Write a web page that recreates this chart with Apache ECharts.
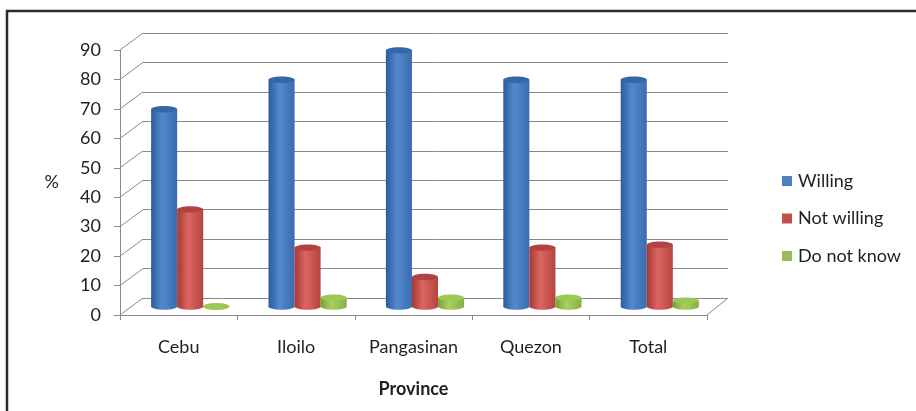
<!DOCTYPE html>
<html>
<head>
<meta charset="utf-8">
<style>
  html, body { margin: 0; padding: 0; background: #ffffff; }
  #chart { width: 916px; height: 411px; }
</style>
<script src="https://cdn.jsdelivr.net/npm/echarts@6/dist/echarts.min.js"></script>
</head>
<body>
<div id="chart"></div>
<script>
// Survey results by province (%)
const provinces = ['Cebu', 'Iloilo', 'Pangasinan', 'Quezon', 'Total'];
const seriesNames = ['Willing', 'Not willing', 'Do not know'];
const willing = [67, 77, 87, 77, 77];
const notWilling = [33, 20, 10, 20, 21];
const doNotKnow = [0, 3, 3, 3, 2];
const yTicks = [0, 10, 20, 30, 40, 50, 60, 70, 80, 90];

// Depth offset of the back wall relative to the front plane (pseudo-3D)
const DX = 23, DY = -17;
const FONT = 'Lato, "Noto Sans", sans-serif';
const TEXT = '#1f1f1f';

// Cylinder shading: [edge, highlight, edge], top cap, legend colour
const palette = [
  { body: ['#2c5c9c', '#5289cf', '#3a6cae'], cap: '#3566a9', base: '#4F81BD' },
  { body: ['#a53835', '#dc6561', '#b54542'], cap: '#b2423f', base: '#C0504D' },
  { body: ['#7aa03a', '#a9d060', '#88ad45'], cap: '#9cc955', base: '#9BBB59' }
];

function cylinder(sIdx) {
  return function (params, api) {
    const cat = api.value(0);
    const v = api.value(1);
    const base = api.coord([cat, 0]);
    const top = api.coord([cat, v]);
    const band = api.size([1, 0])[0];
    const w = band * 0.222;
    const cx = base[0] + (sIdx - 1) * w + DX / 2;
    const yb = base[1] + DY / 2;
    const yt = top[1] + DY / 2;
    const rx = w / 2, ry = 3.2;
    const p = palette[sIdx];
    const grad = new echarts.graphic.LinearGradient(0, 0, 1, 0, [
      { offset: 0, color: p.body[0] },
      { offset: 0.42, color: p.body[1] },
      { offset: 1, color: p.body[2] }
    ]);
    const children = [
      { type: 'ellipse', shape: { cx: cx, cy: yb, rx: rx, ry: ry }, style: { fill: grad } }
    ];
    if (yb - yt > 0.5) {
      children.push({ type: 'rect', shape: { x: cx - rx, y: yt, width: w, height: yb - yt }, style: { fill: grad } });
    }
    children.push({ type: 'ellipse', shape: { cx: cx, cy: yt, rx: rx, ry: ry }, style: { fill: p.cap } });
    return { type: 'group', children: children };
  };
}

const values = [willing, notWilling, doNotKnow];
const barSeries = seriesNames.map(function (name, s) {
  return {
    name: name,
    type: 'custom',
    xAxisIndex: 0,
    yAxisIndex: 0,
    clip: false,
    z: 5,
    itemStyle: { color: palette[s].base },
    encode: { x: 0, y: 1 },
    data: values[s].map(function (v, i) { return [i, v]; }),
    renderItem: cylinder(s)
  };
});

// Diagonal edges joining the front value axis to the back wall, plus the floor's right edge
const edgeSeries = {
  type: 'custom',
  xAxisIndex: 0,
  yAxisIndex: 0,
  clip: false,
  silent: true,
  z: 2,
  encode: { x: 0, y: 1 },
  data: yTicks.map(function (t) { return [0, t]; }),
  renderItem: function (params, api) {
    const rect = params.coordSys;
    const y = api.coord([0, api.value(1)])[1];
    const lineStyle = { stroke: '#8a8a8a', lineWidth: 1 };
    const children = [{
      type: 'line',
      shape: { x1: rect.x, y1: y, x2: rect.x + DX, y2: y + DY },
      style: lineStyle
    }];
    if (api.value(1) === 0) {
      const xr = rect.x + rect.width;
      children.push({
        type: 'line',
        shape: { x1: xr, y1: y, x2: xr + DX - 2, y2: y + DY },
        style: lineStyle
      });
    }
    return { type: 'group', children: children };
  }
};

const chart = echarts.init(document.getElementById('chart'), null, { renderer: 'canvas' });
chart.setOption({
  animation: false,
  backgroundColor: '#ffffff',
  textStyle: { fontFamily: FONT },
  graphic: [{
    type: 'rect',
    shape: { x: 7, y: 11, width: 1000, height: 600 },
    style: { fill: 'none', stroke: '#2b2b2b', lineWidth: 2.5 },
    silent: true,
    z: 100
  }],
  legend: {
    orient: 'vertical',
    left: 777,
    top: 167,
    icon: 'rect',
    itemWidth: 10,
    itemHeight: 10,
    itemGap: 19.5,
    data: seriesNames,
    textStyle: { fontFamily: FONT, fontSize: 18, color: TEXT, lineHeight: 18, padding: [0, 0, 0, 1] }
  },
  grid: [
    { left: 120, top: 50, width: 587, height: 265 },
    { left: 143, top: 33, width: 585, height: 265 }
  ],
  xAxis: [
    {
      gridIndex: 0,
      type: 'category',
      data: provinces,
      boundaryGap: true,
      name: 'Province',
      nameLocation: 'middle',
      nameGap: 65,
      nameTextStyle: { fontFamily: FONT, fontSize: 18, fontWeight: 'bold', color: TEXT },
      axisLine: { show: true, lineStyle: { color: '#8a8a8a', width: 1 } },
      axisTick: { show: true, length: 5, alignWithLabel: false, lineStyle: { color: '#8a8a8a' } },
      axisLabel: { fontFamily: FONT, fontSize: 18, color: TEXT, margin: 23 },
      splitLine: { show: false }
    },
    {
      gridIndex: 1,
      type: 'category',
      data: provinces,
      show: false
    }
  ],
  yAxis: [
    {
      gridIndex: 0,
      type: 'value',
      min: 0,
      max: 90,
      interval: 10,
      name: '%',
      nameLocation: 'middle',
      nameRotate: 0,
      nameGap: 61,
      nameTextStyle: { fontFamily: FONT, fontSize: 18, color: TEXT },
      axisLine: { show: true, lineStyle: { color: '#8a8a8a', width: 1 } },
      axisTick: { show: true, length: 6, lineStyle: { color: '#8a8a8a' } },
      axisLabel: { fontFamily: FONT, fontSize: 18, color: TEXT, margin: 19 },
      splitLine: { show: false }
    },
    {
      gridIndex: 1,
      type: 'value',
      min: 0,
      max: 90,
      interval: 10,
      axisLine: { show: false },
      axisTick: { show: false },
      axisLabel: { show: false },
      splitLine: { show: true, lineStyle: { color: '#8a8a8a', width: 1 } }
    }
  ],
  series: [edgeSeries].concat(barSeries)
});
</script>
</body>
</html>
